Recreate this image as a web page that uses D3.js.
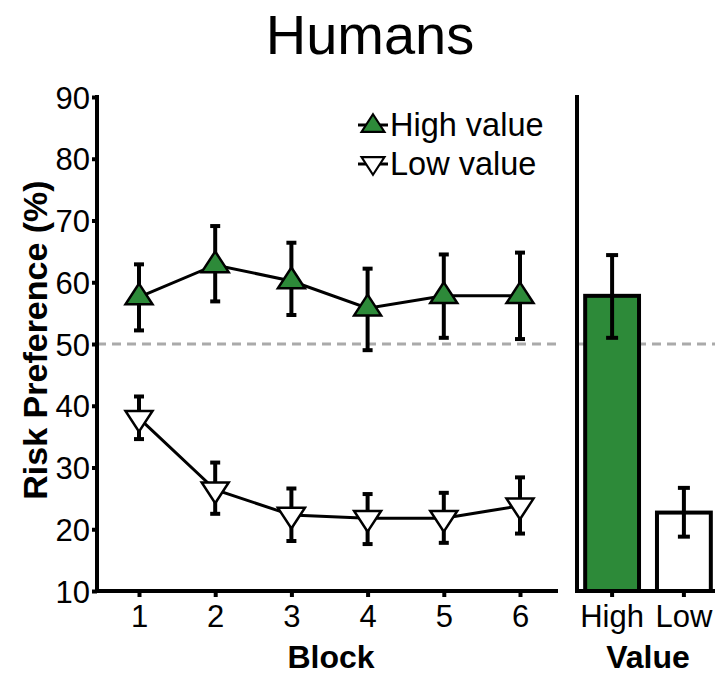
<!DOCTYPE html>
<html>
<head>
<meta charset="utf-8">
<script src="https://cdn.jsdelivr.net/npm/d3@7"></script>
<style>
  html, body { margin: 0; padding: 0; background: #fff; }
  svg { display: block; font-family: "Liberation Sans", Arial, Helvetica, sans-serif; }
</style>
</head>
<body>
<svg id="chart" width="715" height="675"></svg>
<script>
// Risk preference per block, for high- and low-value trials (mean and error range)
const blocks = [1, 2, 3, 4, 5, 6];
const highMean = [57.6, 62.8, 60.2, 55.8, 57.8, 57.8];
const highLo   = [52.2, 56.9, 54.7, 49.0, 51.0, 50.8];
const highHi   = [62.9, 69.1, 66.4, 62.2, 64.5, 64.8];
const lowMean  = [38.0, 26.4, 22.3, 21.8, 21.8, 23.8];
const lowLo    = [34.6, 22.5, 18.1, 17.6, 17.8, 19.3];
const lowHi    = [41.5, 30.8, 26.6, 25.7, 25.9, 28.4];

// Overall means by value condition
const valueCats = ["High", "Low"];
const valueMean = [57.8, 22.7];
const valueLo   = [51.0, 18.8];
const valueHi   = [64.4, 26.7];

const yTicks = [10, 20, 30, 40, 50, 60, 70, 80, 90];
const chanceLevel = 50;

const GREEN = "#2d8a39";
const FONT = "Liberation Sans, Arial, sans-serif";
const TICK_FS = 31;
const svg = d3.select("#chart");

const y = d3.scaleLinear().domain([10, 90]).range([591, 97]);
const x = d3.scaleLinear().domain([1, 6]).range([139, 520]);
const xb = d3.scaleBand().domain(valueCats).range([578, 718]).paddingInner(0.25).paddingOuter(0.1);

const leftX0 = 97, leftX1 = 558, rightX0 = 577, rightX1 = 715;

// Title
svg.append("text").attr("x", 370).attr("y", 54).attr("text-anchor", "middle")
  .attr("font-size", 56).attr("fill", "#000").text("Humans");

// Chance-level reference lines
[[leftX0, leftX1], [rightX0, rightX1]].forEach(([a, b]) => {
  svg.append("line").attr("x1", a).attr("x2", b)
    .attr("y1", y(chanceLevel)).attr("y2", y(chanceLevel))
    .attr("stroke", "#aaa").attr("stroke-width", 3).attr("stroke-dasharray", "9,6");
});

// Left axis
const yAxis = svg.append("g").attr("transform", `translate(${leftX0},0)`)
  .call(d3.axisLeft(y).tickValues(yTicks).tickSize(5).tickSizeOuter(0).tickPadding(2));
yAxis.select(".domain").remove();
yAxis.selectAll(".tick line").attr("stroke", "#000").attr("stroke-width", 4);
yAxis.selectAll(".tick text").attr("font-size", TICK_FS).attr("fill", "#000")
  .attr("font-family", FONT).attr("dy", "0.36em");
svg.append("line").attr("x1", leftX0).attr("x2", leftX0).attr("y1", y(90) - 2).attr("y2", y(10) + 2)
  .attr("stroke", "#000").attr("stroke-width", 4);

// Bottom axis (blocks)
const xAxis = svg.append("g").attr("transform", `translate(0,${y(10)})`)
  .call(d3.axisBottom(x).tickValues(blocks).tickFormat(d3.format("d")).tickSize(6).tickSizeOuter(0).tickPadding(8));
xAxis.select(".domain").remove();
xAxis.selectAll(".tick line").attr("stroke", "#000").attr("stroke-width", 4);
xAxis.selectAll(".tick text").attr("font-size", TICK_FS).attr("fill", "#000").attr("font-family", FONT);
svg.append("line").attr("x1", leftX0 - 2).attr("x2", leftX1).attr("y1", y(10)).attr("y2", y(10))
  .attr("stroke", "#000").attr("stroke-width", 4);

// Axis titles
svg.append("text").attr("transform", `translate(47,${y(50) - 4}) rotate(-90)`)
  .attr("text-anchor", "middle").attr("font-size", 34).attr("font-weight", "bold").text("Risk Preference (%)");
svg.append("text").attr("x", 331).attr("y", 668).attr("text-anchor", "middle")
  .attr("font-size", 32).attr("font-weight", "bold").text("Block");

// Triangle marker centred on the origin
function triPath(up) {
  const w = 13.5, h = 11.5;
  return up ? `M0,${-h}L${w},${h * 0.8}L${-w},${h * 0.8}Z` : `M0,${h}L${w},${-h * 0.8}L${-w},${-h * 0.8}Z`;
}

function drawSeries(mean, lo, hi, fill, up) {
  const g = svg.append("g");
  // error bars
  blocks.forEach((b, i) => {
    g.append("line").attr("x1", x(b)).attr("x2", x(b)).attr("y1", y(lo[i])).attr("y2", y(hi[i]))
      .attr("stroke", "#000").attr("stroke-width", 4);
    [lo[i], hi[i]].forEach(v => {
      g.append("line").attr("x1", x(b) - 5).attr("x2", x(b) + 5).attr("y1", y(v)).attr("y2", y(v))
        .attr("stroke", "#000").attr("stroke-width", 4);
    });
  });
  // connecting line
  g.append("path").datum(blocks.map((b, i) => [x(b), y(mean[i])]))
    .attr("d", d3.line()).attr("fill", "none").attr("stroke", "#000").attr("stroke-width", 3);
  // markers
  g.selectAll("path.m").data(blocks).enter().append("path").attr("class", "m")
    .attr("transform", (b, i) => `translate(${x(b)},${y(mean[i]) + (up ? -2 : 2)})`)
    .attr("d", triPath(up)).attr("fill", fill).attr("stroke", "#000").attr("stroke-width", 2.5);
}

drawSeries(highMean, highLo, highHi, GREEN, true);
drawSeries(lowMean, lowLo, lowHi, "#fff", false);

// Legend
const legend = [
  { label: "High value", fill: GREEN, up: true, y: 125 },
  { label: "Low value", fill: "#fff", up: false, y: 164 }
];
legend.forEach(d => {
  svg.append("line").attr("x1", 358).attr("x2", 388).attr("y1", d.y).attr("y2", d.y)
    .attr("stroke", "#000").attr("stroke-width", 3);
  svg.append("path").attr("transform", `translate(373,${d.y + (d.up ? -1 : 1)}) scale(0.85)`)
    .attr("d", triPath(d.up)).attr("fill", d.fill).attr("stroke", "#000").attr("stroke-width", 2.5);
  svg.append("text").attr("x", 390).attr("y", d.y + 11).attr("font-size", 32.5).text(d.label);
});

// Right panel: overall means by value
svg.append("line").attr("x1", rightX0).attr("x2", rightX0).attr("y1", y(90) - 2).attr("y2", y(10) + 2)
  .attr("stroke", "#000").attr("stroke-width", 4);

svg.selectAll("rect.bar").data(valueCats).enter().append("rect").attr("class", "bar")
  .attr("x", d => xb(d)).attr("width", xb.bandwidth())
  .attr("y", (d, i) => y(valueMean[i])).attr("height", (d, i) => y(10) - y(valueMean[i]))
  .attr("fill", (d, i) => i === 0 ? GREEN : "#fff").attr("stroke", "#000").attr("stroke-width", 4);

valueCats.forEach((c, i) => {
  const cx = xb(c) + xb.bandwidth() / 2;
  svg.append("line").attr("x1", cx).attr("x2", cx).attr("y1", y(valueLo[i])).attr("y2", y(valueHi[i]))
    .attr("stroke", "#000").attr("stroke-width", 4);
  [valueLo[i], valueHi[i]].forEach(v => {
    svg.append("line").attr("x1", cx - 6).attr("x2", cx + 6).attr("y1", y(v)).attr("y2", y(v))
      .attr("stroke", "#000").attr("stroke-width", 4);
  });
});

const xbAxis = svg.append("g").attr("transform", `translate(0,${y(10)})`)
  .call(d3.axisBottom(xb).tickSize(6).tickSizeOuter(0).tickPadding(8));
xbAxis.select(".domain").remove();
xbAxis.selectAll(".tick line").attr("stroke", "#000").attr("stroke-width", 4);
xbAxis.selectAll(".tick text").attr("font-size", TICK_FS).attr("fill", "#000").attr("font-family", FONT);
svg.append("line").attr("x1", rightX0 - 2).attr("x2", rightX1).attr("y1", y(10)).attr("y2", y(10))
  .attr("stroke", "#000").attr("stroke-width", 4);

svg.append("text").attr("x", 648).attr("y", 668).attr("text-anchor", "middle")
  .attr("font-size", 32).attr("font-weight", "bold").text("Value");
</script>
</body>
</html>
